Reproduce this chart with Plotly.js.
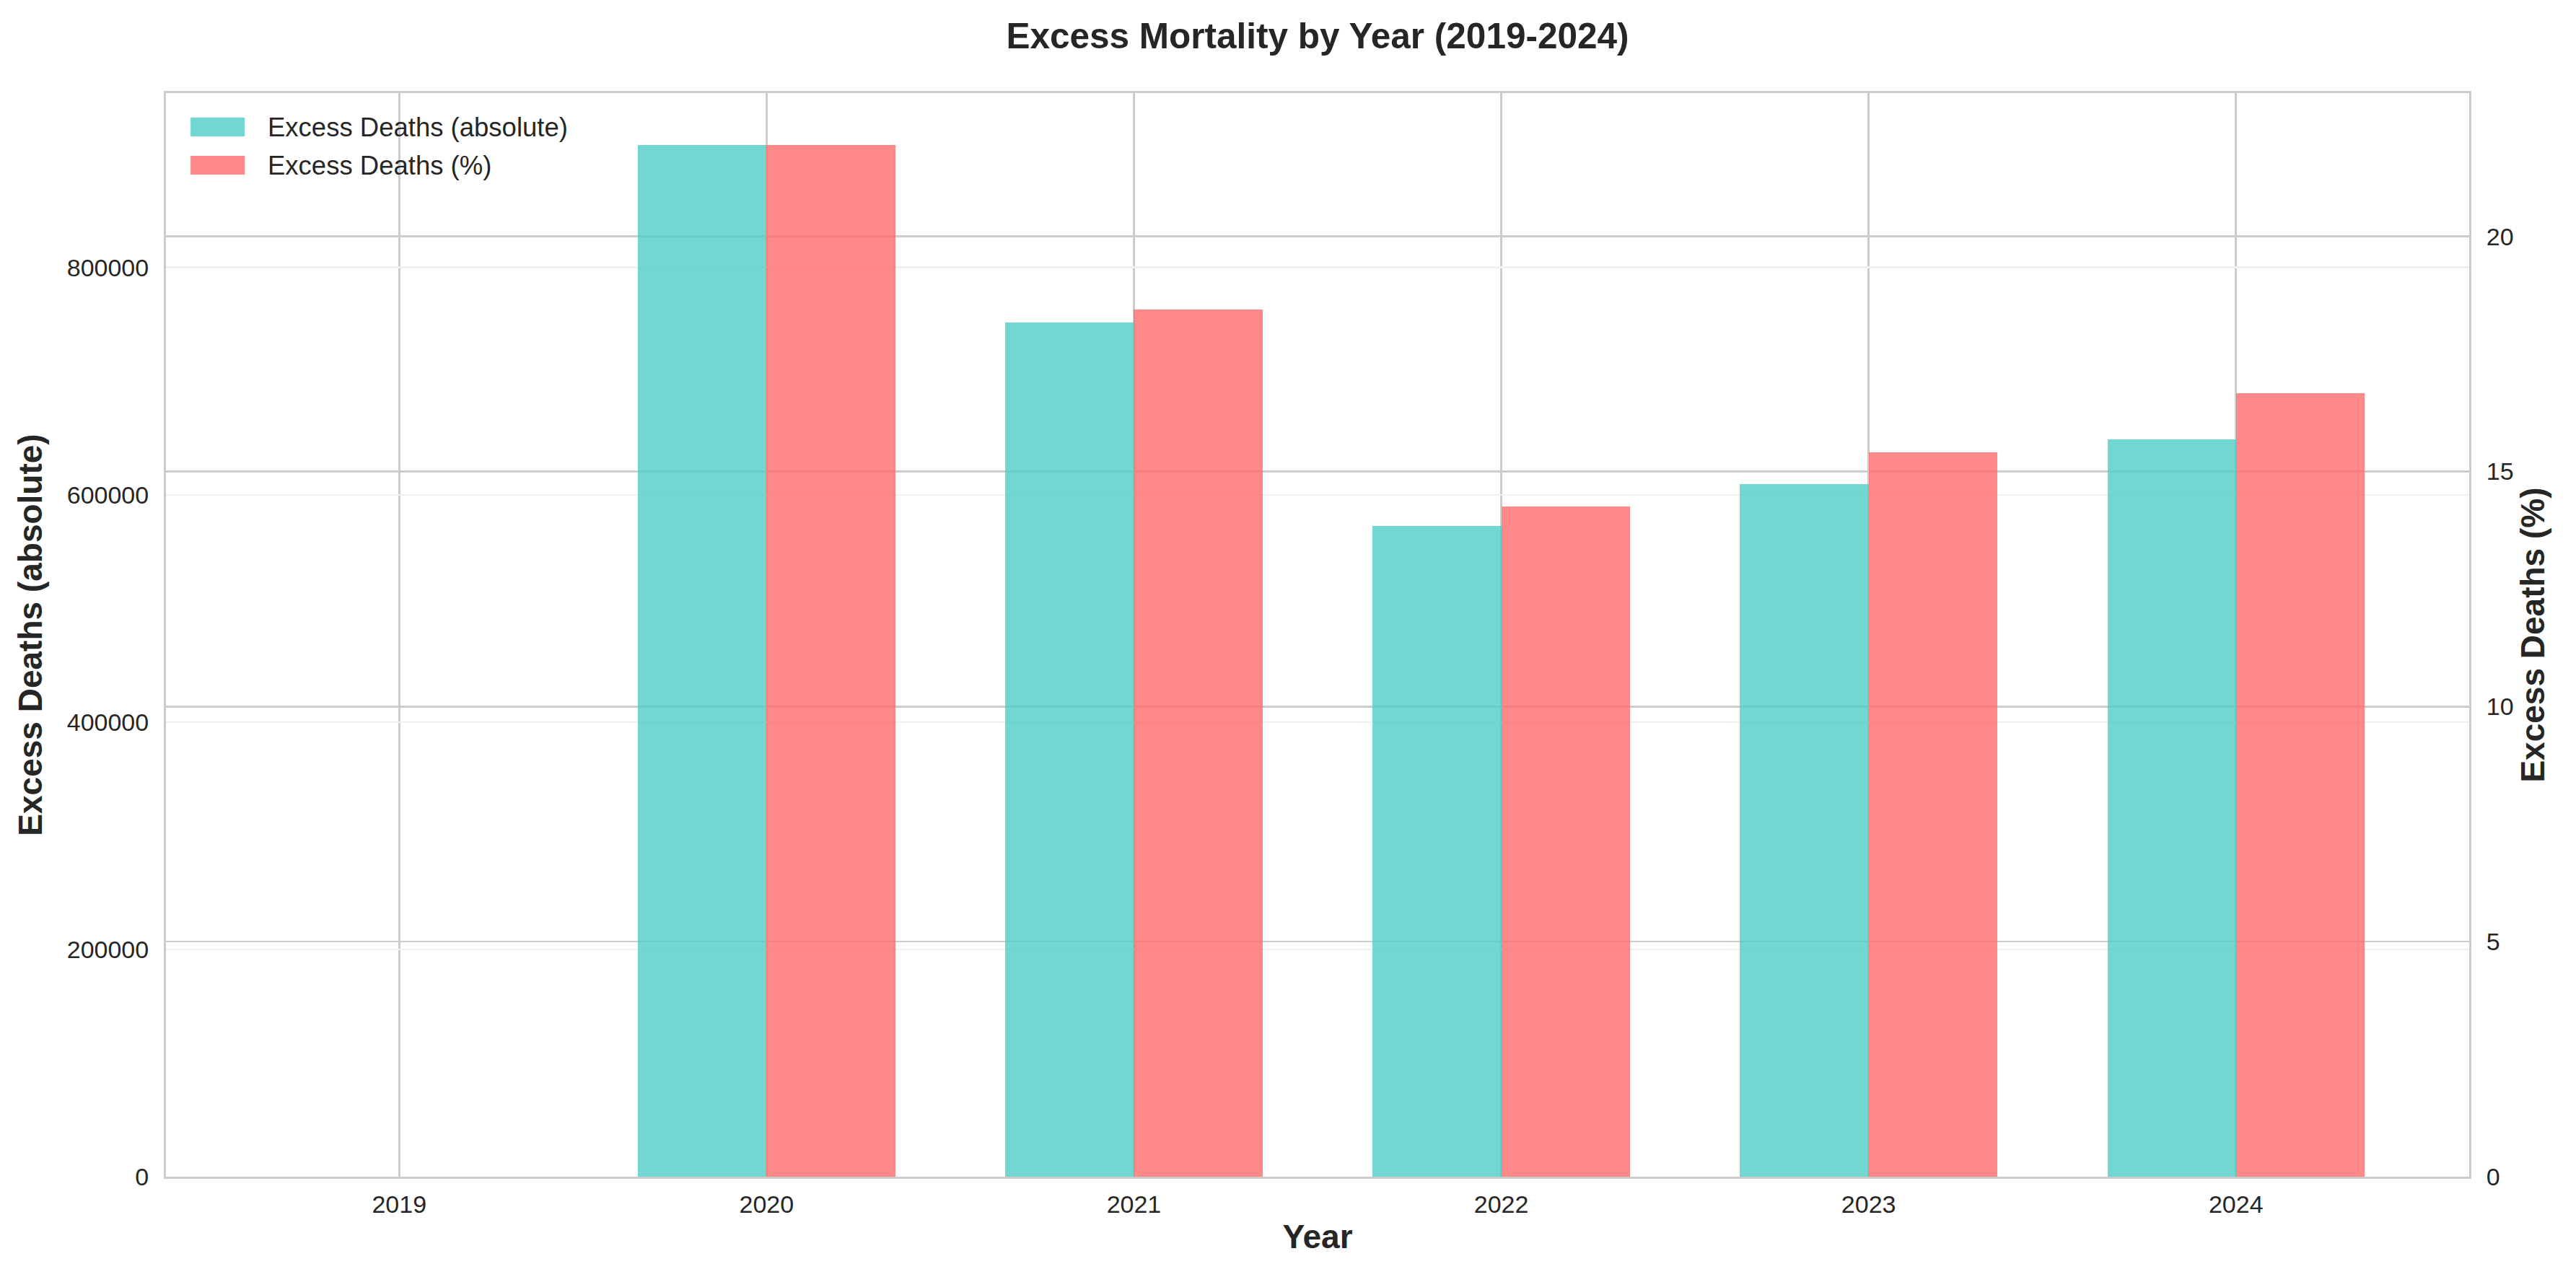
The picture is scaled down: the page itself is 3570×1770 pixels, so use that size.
<!DOCTYPE html>
<html>
<head>
<meta charset="utf-8">
<script src="https://cdn.plot.ly/plotly-3.0.1.min.js"></script>
<style>html,body{margin:0;padding:0;background:#fff;}#chart{width:3570px;height:1770px;}</style>
</head>
<body>
<div id="chart"></div>
<script>
const years = ["2019", "2020", "2021", "2022", "2023", "2024"];
const excessAbsolute = [0, 908000, 751300, 572400, 609200, 648500];
const excessPercent = [0, 21.95, 18.44, 14.26, 15.41, 16.66];
const leftTicks = [0, 200000, 400000, 600000, 800000];
const rightTicks = [0, 5, 10, 15, 20];
const seriesNames = ["Excess Deaths (absolute)", "Excess Deaths (%)"];
const seriesColors = ["rgba(78,205,196,0.8)", "rgba(255,107,107,0.8)"];

const FONT = "Liberation Sans, Arial, Helvetica, sans-serif";
const TXT = "#262626";
const GRID = "#cccccc";

const traces = [
  {
    type: "bar", name: seriesNames[0], x: years, y: excessAbsolute,
    yaxis: "y", width: 0.35, offset: -0.35,
    marker: {color: seriesColors[0], line: {width: 0}}, showlegend: false
  },
  {
    type: "bar", name: seriesNames[1], x: years, y: excessPercent,
    yaxis: "y2", width: 0.35, offset: 0,
    marker: {color: seriesColors[1], line: {width: 0}}, showlegend: false
  }
];

const maxAbs = Math.max(...excessAbsolute) * 1.05;
const maxPct = Math.max(...excessPercent) * 1.05;

// custom legend (matplotlib-style wide swatches)
const legShapes = [];
const legAnn = [];
const legRows = [[0.9601, 0.9774, 0.9687], [0.9248, 0.9421, 0.9334]];
seriesNames.forEach((n, i) => {
  legShapes.push({type: "rect", xref: "paper", yref: "paper",
    x0: 0.0107, x1: 0.0342, y0: legRows[i][0], y1: legRows[i][1],
    fillcolor: seriesColors[i], line: {width: 0}, layer: "above"});
  legAnn.push({xref: "paper", yref: "paper", x: 0.0434, y: legRows[i][2],
    xanchor: "left", yanchor: "middle", showarrow: false, text: n,
    font: {family: FONT, size: 36.5, color: TXT}});
});

const layout = {
  width: 3570, height: 1770,
  paper_bgcolor: "#ffffff", plot_bgcolor: "#ffffff",
  margin: {l: 230, r: 148, t: 129, b: 139, pad: 0},
  font: {family: FONT, color: TXT},
  title: {
    text: "<b>Excess Mortality by Year (2019-2024)</b>",
    font: {family: FONT, size: 49.5, color: TXT},
    x: 0.5, xanchor: "center", xref: "paper",
    y: 1 - 50 / 1770, yref: "container", yanchor: "middle"
  },
  barmode: "overlay",
  bargap: 0,
  xaxis: {
    type: "category", range: [-0.635, 5.635],
    showgrid: true, gridcolor: GRID, gridwidth: 2.5,
    showline: true, mirror: true, linecolor: GRID, linewidth: 3,
    ticks: "", ticklabelstandoff: 6,
    tickfont: {family: FONT, size: 34, color: TXT},
    title: {text: "<b>Year</b>", font: {family: FONT, size: 46, color: TXT}, standoff: 12},
    zeroline: false, fixedrange: true
  },
  yaxis: {
    range: [0, maxAbs], tickvals: leftTicks, tickformat: "d",
    showgrid: true, gridcolor: "#f0f0f0", gridwidth: 2.5,
    showline: true, linecolor: GRID, linewidth: 3,
    ticks: "", ticklabelstandoff: 14,
    tickfont: {family: FONT, size: 34, color: TXT},
    title: {text: "<b>Excess Deaths (absolute)</b>", font: {family: FONT, size: 46, color: TXT}, standoff: 20},
    zeroline: false, fixedrange: true
  },
  yaxis2: {
    overlaying: "y", side: "right",
    range: [0, maxPct], tickvals: rightTicks,
    showgrid: true, gridcolor: GRID, gridwidth: 2.5,
    showline: true, linecolor: GRID, linewidth: 3,
    ticks: "", ticklabelstandoff: 14,
    tickfont: {family: FONT, size: 34, color: TXT},
    title: {text: "<b>Excess Deaths (%)</b>", font: {family: FONT, size: 46, color: TXT}, standoff: 12},
    zeroline: false, fixedrange: true
  },
  shapes: legShapes,
  annotations: legAnn,
  showlegend: false
};

Plotly.newPlot("chart", traces, layout, {staticPlot: true, displayModeBar: false});
</script>
</body>
</html>
